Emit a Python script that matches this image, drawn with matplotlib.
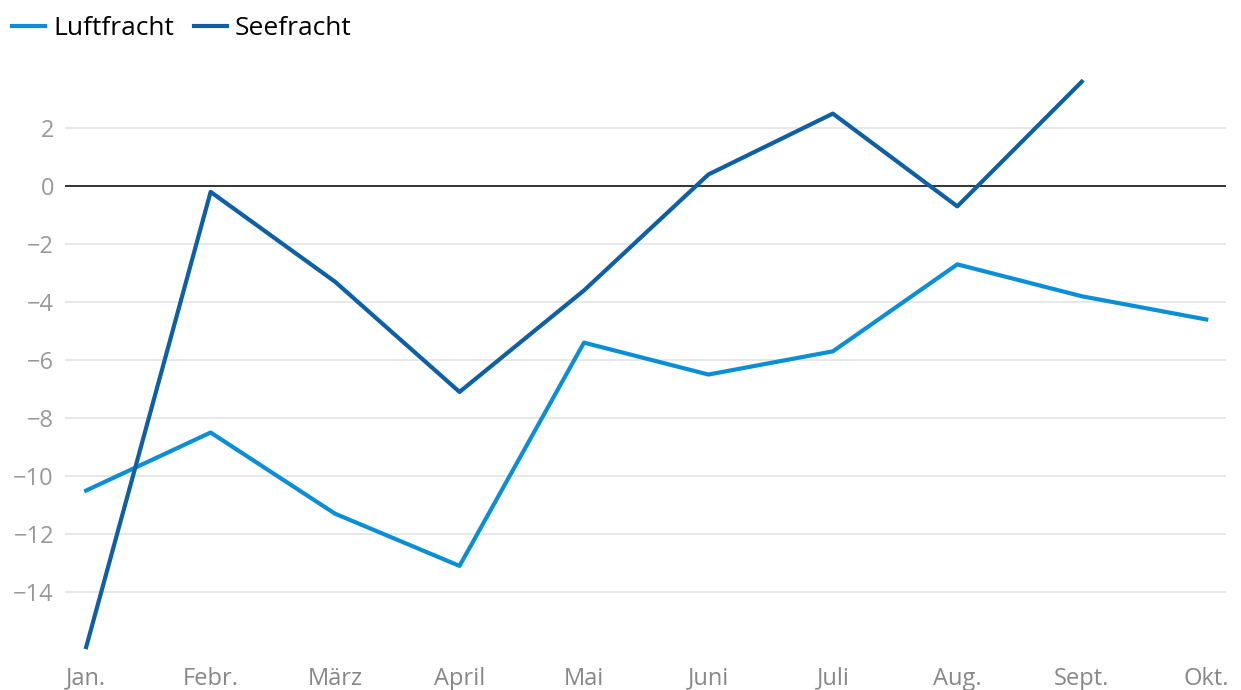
import matplotlib
matplotlib.use("Agg")
from matplotlib import pyplot as plt

# data (percent change)
months = ["Jan.", "Febr.", "März", "April", "Mai", "Juni", "Juli", "Aug.", "Sept.", "Okt."]
luftfracht = [-10.5, -8.5, -11.3, -13.1, -5.4, -6.5, -5.7, -2.7, -3.8, -4.6]
seefracht = [-15.9, -0.2, -3.3, -7.1, -3.6, 0.4, 2.5, -0.7, 3.6]
y_ticks = [-14, -12, -10, -8, -6, -4, -2, 0, 2]

c_luft = "#0a8fd6"
c_see = "#0d5fa6"

plt.rcParams["font.family"] = ["Open Sans", "DejaVu Sans"]

fig = plt.figure(figsize=(12.41, 6.9), dpi=100)
ax = fig.add_axes([0.0524, 0.058, 0.9356, 0.832])

x = list(range(len(months)))
ax.plot(x, luftfracht, color=c_luft, lw=3, label="Luftfracht", zorder=3)
ax.plot(x[:len(seefracht)], seefracht, color=c_see, lw=3, label="Seefracht", zorder=3)

for t in y_ticks:
    if t == 0:
        ax.axhline(0, color="#333333", lw=1.4, zorder=2)
    else:
        ax.axhline(t, color="#e6e6e6", lw=1.3, zorder=1)

ax.set_xlim(-0.17, 9.16)
ax.set_ylim(-16, 3.8)
ax.set_yticks(y_ticks)
ax.set_xticks(x)
ax.set_xticklabels(months)
for s in ax.spines.values():
    s.set_visible(False)
ax.tick_params(axis="both", length=0, labelsize=17, colors="#999999")
ax.tick_params(axis="y", pad=8)
ax.tick_params(axis="x", pad=12)
for lbl in ax.get_xticklabels():
    lbl.set_color("#888888")

ax.legend(loc="upper left", bbox_to_anchor=(-0.066, 1.145), ncol=2, frameon=False,
          fontsize=19, handlelength=1.25, handletextpad=0.3, columnspacing=0.75)

fig.savefig("out.png", dpi=100)
